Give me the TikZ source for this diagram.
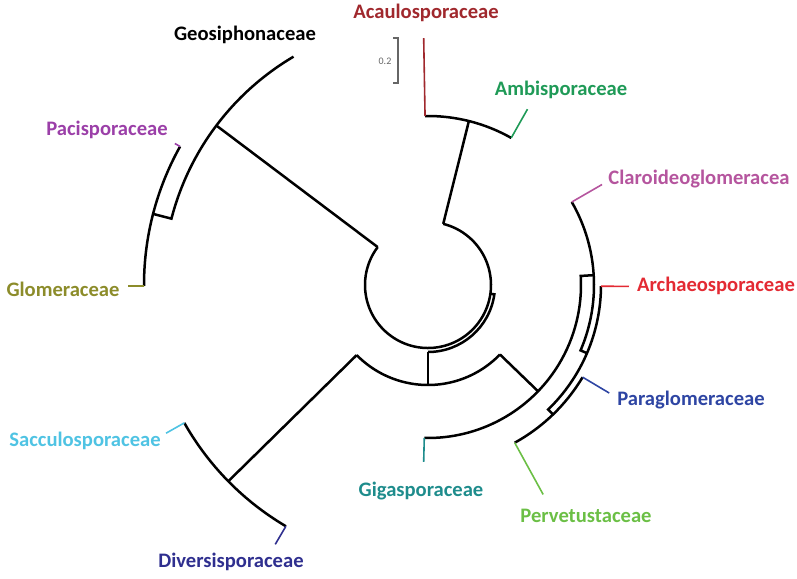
\documentclass[tikz,border=0pt]{standalone}
\usepackage{fontspec}
\setmainfont{Carlito}
\usepackage{xcolor}
\usetikzlibrary{positioning}

\definecolor{acau}{HTML}{A0282D}
\definecolor{ambi}{HTML}{1F9A57}
\definecolor{paci}{HTML}{9B3FA8}
\definecolor{clar}{HTML}{B5559E}
\definecolor{glom}{HTML}{8C8C2A}
\definecolor{arch}{HTML}{E32A33}
\definecolor{para}{HTML}{2E45A3}
\definecolor{sacc}{HTML}{4FC3E3}
\definecolor{giga}{HTML}{1E8C8C}
\definecolor{perv}{HTML}{6BBF45}
\definecolor{divs}{HTML}{2F2F8F}

\begin{document}
\begin{tikzpicture}[x=0.5pt,y=-0.5pt,
  br/.style={line width=1.25pt},
  tip/.style={line width=0.8pt},
  lab/.style={inner sep=0pt,font=\fontsize{10.3}{12}\selectfont\bfseries},
  bar/.style={line width=0.6pt,gray!80!black}]
 \useasboundingbox (0,0) rectangle (797,578);
 % family names
 \node[lab,acau] (acau) at (426,13) {Acaulosporaceae};
 \node[lab]      (geos) at (245,35) {Geosiphonaceae};
 \node[lab,ambi] (ambi) at (561,90) {Ambisporaceae};
 \node[lab,paci] (paci) at (107,130) {Pacisporaceae};
 \node[lab,clar] (clar) at (699,179) {Claroideoglomeracea};
 \node[lab,glom] (glom) at (63,289) {Glomeraceae};
 \node[lab,arch] (arch) at (716,286) {Archaeosporaceae};
 \node[lab,para] (para) at (691,400) {Paraglomeraceae};
 \node[lab,sacc] (sacc) at (85,441) {Sacculosporaceae};
 \node[lab,giga] (giga) at (421,491) {Gigasporaceae};
 \node[lab,perv] (perv) at (586,516) {Pervetustaceae};
 \node[lab,divs] (divs) at (231,562) {Diversisporaceae};
 % scale bar
 \draw[bar] (393,38) -- (398,38) -- (398,83) -- (393,83);
 \node[inner sep=0pt,font=\fontsize{5}{6}\selectfont,gray!80!black] (scl) at (385,61) {0.2};
 \begin{scope}[shift={(428,285)}]
  % root
  \draw[br] (217:63) arc[start angle=217,end angle=-76,radius=63];
  \draw[br] (8:63) -- (8:67) arc[start angle=8,end angle=90,radius=67];
  \draw[br] (90:67) -- (90:100);
  % Glomerales side
  \draw[br] (-143:63) -- (-143:265);
  \draw[br] (-120.5:265) arc[start angle=-120.5,end angle=-165.5,radius=265] -- (-165.5:284);
  \draw[br] (-150.8:284) arc[start angle=-150.8,end angle=-180.2,radius=284];
  \draw[tip,paci] (-150.8:284) -- (-150.8:290);
  \draw[tip,glom] (-180.2:284) -- (-180.2:300);
  % Acaulospora / Ambispora
  \draw[br] (-76:63) -- (-76:169);
  \draw[br] (-91:169) arc[start angle=-91,end angle=-60.5,radius=169];
  \draw[tip,acau] (-91:169) -- (-91:247);
  \draw[tip,ambi] (-60.5:169) -- (-60.5:202);
  % lower part
  \draw[br] (44:100) arc[start angle=44,end angle=135.5,radius=100];
  \draw[br] (135.5:100) -- (135.5:280);
  \draw[br] (120.5:280) arc[start angle=120.5,end angle=150.5,radius=280];
  \draw[tip,sacc] (150.5:280) -- (150.5:301);
  \draw[tip,divs] (120.5:280) -- (120.5:301);
  \draw[br] (44:100) -- (44:153);
  \draw[br] (91.4:153) arc[start angle=91.4,end angle=-3.4,radius=153] -- (-3.4:166);
  \draw[tip,giga] (91.4:153) -- (91.4:177);
  \draw[br] (-30:166) arc[start angle=-30,end angle=23.2,radius=166] -- (23.2:173);
  \draw[tip,clar] (-30:166) -- (-30:201);
  \draw[br] (0.4:173) arc[start angle=0.4,end angle=46,radius=173] -- (46:180);
  \draw[tip,arch] (0.4:173) -- (0.4:201);
  \draw[br] (30.8:180) arc[start angle=30.8,end angle=61.2,radius=180];
  \draw[tip,para] (30.8:180) -- (30.8:211);
  \draw[tip,perv] (61.2:180) -- (61.2:239);
 \end{scope}
\end{tikzpicture}
\end{document}
